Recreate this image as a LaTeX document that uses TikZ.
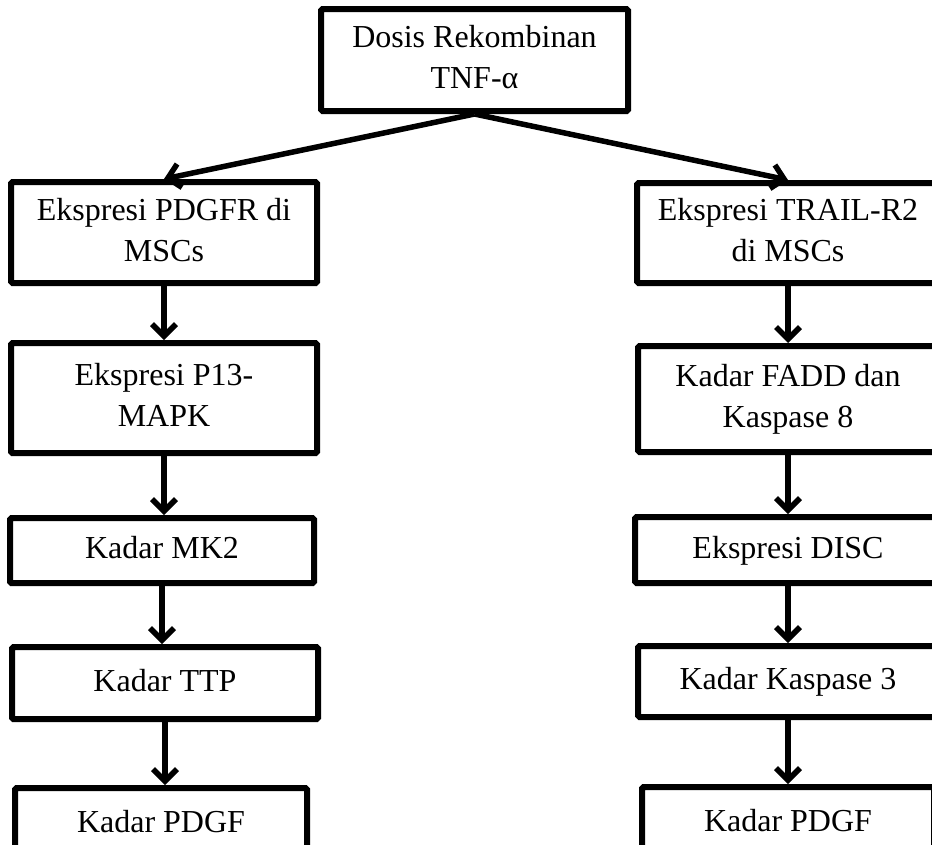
\documentclass[tikz,border=0pt]{standalone}
\usepackage{fontspec}
\setmainfont{Liberation Serif}
\usetikzlibrary{arrows.meta}

\begin{document}
\begin{tikzpicture}[
        x=1pt, y=-1pt,
        box/.style={draw, line width=6pt, rounded corners=1.5pt, align=center,
            inner sep=0pt, font=\fontsize{32}{41}\selectfont},
        oneline/.style={box, execute at begin node=\strut, execute at end node=\strut},
        twoline/.style={box, execute at begin node={\rule{0pt}{36pt}},
            execute at end node={\rule[-6pt]{0pt}{0pt}}},
        edge/.style={line width=5.5pt, -{Straight Barb[length=12pt,width=24pt]}}
        ]
        \useasboundingbox (0,0) rectangle (932,844);

        \node[twoline, minimum width=307pt, minimum height=102pt] (dose) at (474.5,60) {Dosis Rekombinan\\TNF-α};

        \node[twoline, minimum width=306pt, minimum height=101pt] (l1) at (164,232.5) {Ekspresi PDGFR di\\MSCs};
        \node[twoline, minimum width=306pt, minimum height=110pt] (l2) at (164,398) {Ekspresi P13-\\MAPK};
        \node[oneline, minimum width=304pt, minimum height=65pt] (l3) at (162,550.5) {Kadar MK2};
        \node[oneline, minimum width=306pt, minimum height=72pt] (l4) at (165,683) {Kadar TTP};
        \node[oneline, minimum width=292pt, minimum height=72pt] (l5) at (161,824) {Kadar PDGF};

        \node[twoline, minimum width=302pt, minimum height=100pt] (r1) at (788,233) {Ekspresi TRAIL-R2\\di MSCs};
        \node[twoline, minimum width=300pt, minimum height=106pt] (r2) at (788,399) {Kadar FADD dan\\Kaspase 8};
        \node[oneline, minimum width=306pt, minimum height=66pt] (r3) at (788,550) {Ekspresi DISC};
        \node[oneline, minimum width=300pt, minimum height=71pt] (r4) at (788,681.5) {Kadar Kaspase 3};
        \node[oneline, minimum width=292pt, minimum height=72pt] (r5) at (788,823) {Kadar PDGF};

        \draw[edge] (dose.south) -- (l1.north);
        \draw[edge] (dose.south) -- (r1.north);

        \draw[edge] (l1.south) -- (l1.south |- l2.north);
        \draw[edge] (l2.south) -- (l2.south |- l3.north);
        \draw[edge] (l3.south) -- (l3.south |- l4.north);
        \draw[edge] (l4.south) -- (l4.south |- l5.north);

        \draw[edge] (r1.south) -- (r1.south |- r2.north);
        \draw[edge] (r2.south) -- (r2.south |- r3.north);
        \draw[edge] (r3.south) -- (r3.south |- r4.north);
        \draw[edge] (r4.south) -- (r4.south |- r5.north);
    \end{tikzpicture}
\end{document}
